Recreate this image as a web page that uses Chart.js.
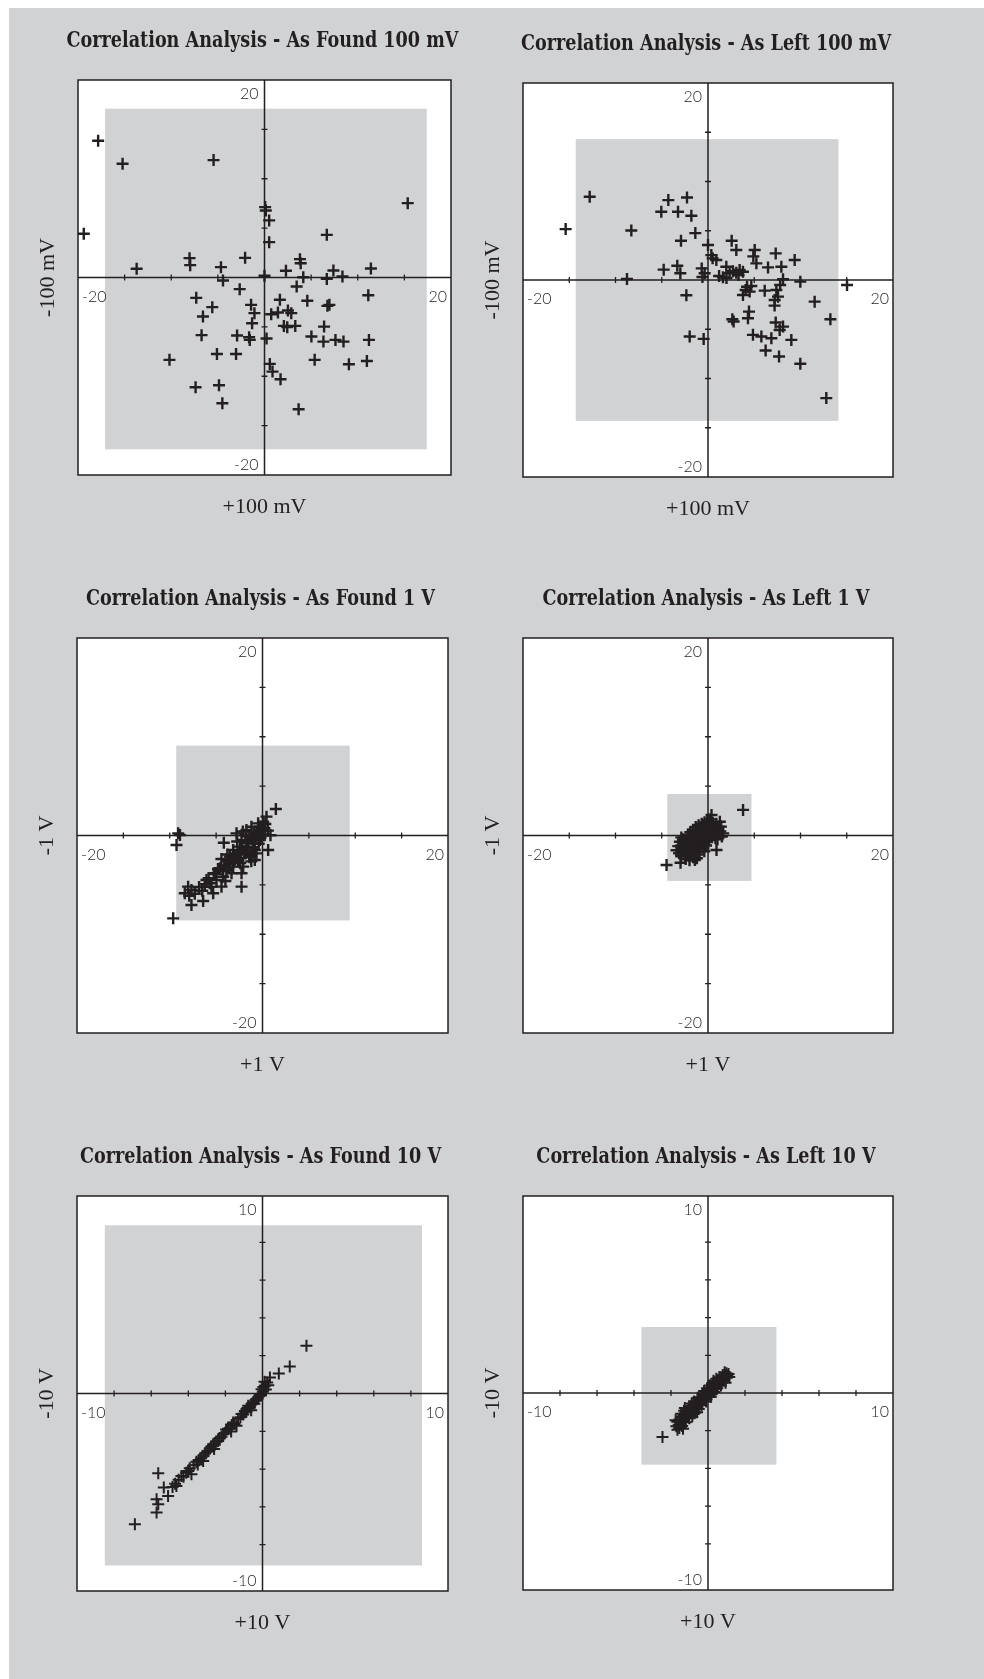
<!DOCTYPE html>
<html>
<head>
<meta charset="utf-8">
<script src="https://cdn.jsdelivr.net/npm/chart.js@4/dist/chart.umd.min.js"></script>
<style>
  html, body { margin: 0; padding: 0; background: #fff; }
  #page { position: relative; width: 984px; height: 1679px; background: #fff; overflow: hidden; }
  #sheet { position: absolute; left: 9px; top: 8px; right: 0; bottom: 0; background: #d1d2d4; }
  canvas { position: absolute; }
</style>
</head>
<body>
<div id="page"><div id="sheet"></div></div>
<script>
// ---- Chart text ----
const panelTitles = [
  'Correlation Analysis - As Found 100 mV',
  'Correlation Analysis - As Left 100 mV',
  'Correlation Analysis - As Found 1 V',
  'Correlation Analysis - As Left 1 V',
  'Correlation Analysis - As Found 10 V',
  'Correlation Analysis - As Left 10 V'
];
const xAxisTitles = ['+100 mV', '+100 mV', '+1 V', '+1 V', '+10 V', '+10 V'];
const yAxisTitles = ['-100 mV', '-100 mV', '-1 V', '-1 V', '-10 V', '-10 V'];

// ---- Axis ranges [xMin, xMax, yMin, yMax], ticks and end labels ----
const range20 = [-20, 20, -20, 20];
const range10 = [-10, 10, -10.45, 10.45];
const ticks20 = [-15, -10, -5, 5, 10, 15];
const ticks10 = [-8, -6, -4, -2, 2, 4, 6, 8];
const endLabels20 = ['-20', '20'];
const endLabels10 = ['-10', '10'];

// ---- Tolerance bands [xMin, xMax, yMin, yMax] ----
const bandFound100mV = [-17.1, 17.4, -17.4, 17.1];
const bandLeft100mV  = [-14.3, 14.1, -14.3, 14.3];
const bandFound1V    = [-9.3, 9.4, -8.6, 9.1];
const bandLeft1V     = [-4.4, 4.7, -4.6, 4.2];
const bandFound10V   = [-8.5, 8.6, -9.1, 8.9];
const bandLeft10V    = [-3.6, 3.7, -3.8, 3.5];

// ---- Measurement pairs [x, y] ----
const found100mV = [
  [-17.84,13.85],[-15.22,11.52],[-5.46,11.89],[-19.38,4.43],[15.36,7.53],[0.07,7.13],[0.14,6.79],
  [0.5,5.78],[0.5,3.58],[6.68,4.32],[-13.71,0.88],[-8.04,1.96],[-7.97,1.25],[-4.67,1.05],[-2.08,1.99],
  [0,0.17],[2.3,0.68],[3.8,1.86],[3.88,1.45],[4.16,0.03],[6.68,-0.14],[7.39,0.71],[8.36,0.1],[11.41,0.91],
  [-4.45,-0.3],[-2.66,-1.18],[-7.32,-2.06],[3.45,-0.91],[4.59,-2.36],[1.65,-2.26],[11.13,-1.79],
  [-5.6,-3.0],[-6.6,-3.95],[-1.44,-2.77],[-1.08,-3.61],[0.72,-3.72],[1.44,-3.55],[2.51,-3.34],[2.87,-3.61],
  [6.75,-2.87],[6.96,-2.77],[-1.33,-4.63],[2.08,-4.9],[2.44,-5.03],[3.3,-4.9],[6.39,-4.97],[-6.75,-5.84],
  [-2.94,-5.88],[-1.65,-6.05],[-1.58,-6.32],[0.22,-6.18],[5.03,-5.98],[6.32,-6.49],[7.61,-6.32],[8.47,-6.49],
  [11.2,-6.32],[-5.1,-7.74],[-3.05,-7.74],[-10.19,-8.34],[5.38,-8.34],[9.05,-8.78],[10.98,-8.45],
  [0.57,-8.75],[0.86,-9.53],[1.72,-10.3],[-7.39,-11.11],[-4.88,-10.91],[-4.52,-12.74],[3.66,-13.34]
];
const left100mV = [
  [-15.39,5.17],[-12.79,8.45],[-8.29,5.03],[-8.76,0.1],[-4.29,8.11],[-2.27,8.38],[-5.05,6.93],[-3.24,6.93],
  [-1.8,6.52],[-1.37,4.76],[-2.92,3.99],[-4.79,1.05],[-3.32,1.45],[-2.99,0.68],[-2.34,-1.55],[-0.68,1.18],
  [-0.36,0.68],[0,3.55],[0.36,2.53],[0.9,2.03],[-1.98,-5.74],[-0.47,-5.98],[2.56,3.99],[3.06,3.04],
  [5.05,3.04],[5.23,1.69],[7.32,2.7],[9.37,2.03],[7.93,1.35],[6.49,1.28],[1.98,1.35],[2.34,0.68],
  [3.06,0.74],[3.78,0.84],[1.62,0.27],[8.11,0.07],[9.98,-0.17],[15.03,-0.51],[4.07,-1.01],[4.5,-1.18],
  [3.78,-1.52],[6.13,-1.08],[7.39,-1.01],[7.21,-2.03],[7.57,-1.69],[11.53,-2.2],[4.43,-3.21],[4.32,-3.89],
  [2.63,-3.99],[2.77,-4.22],[13.23,-3.99],[7.32,-4.32],[8.11,-4.73],[4.86,-5.57],[5.77,-5.74],[6.85,-5.91],
  [9.01,-6.08],[6.23,-7.16],[7.68,-7.77],[9.98,-8.51],[12.79,-11.99],[4.22,-0.68],[4.68,-0.61],[3.42,1.01],
  [7.75,-5.07],[2.7,0.9],[3.3,0.5],[1.2,0.4],[2.0,0.2],[-0.6,0.3],[0.5,2.2],[7.8,-0.5],[4.9,2.4],[7.2,-2.6]
];
const found1V = [
  [-9.63,-8.39],[-9.09,0.22],[-9.27,-0.96],[-8.9,0.05],[1.44,2.68],[0.61,-1.47],[0.86,0.02],[-7.66,-5.52],
  [-8.02,-5.18],[-8.38,-5.85],[-7.66,-7.04],[-6.4,-6.63],[-7.9,-6.1],[-6.04,-4.5],[-5.32,-5.85],[-4.42,-5.18],
  [-2.26,-5.18],[-2.26,-3.83],[-4.17,-0.73],[-3.88,-2.48],[-3.16,-3.15],[-5.25,-3.83],[-4.24,-4.17],[-2.8,0.22],
  [-2.26,-0.46],[-1.73,-1.13],[-1.19,-1.81],[-1.01,-0.46],[-0.65,0.22],[-0.29,0.89],[0.07,1.4],[0.43,1.91],
  [-0.83,-1.47],[-1.37,-0.12],[-1.91,-1.81],[-3.52,-2.14],[-3.16,-1.47],[-2.62,-2.48],[-2.08,-3.15],[-3.88,-3.49],
  [-4.96,-4.5],[-5.68,-4.84],[-0.29,-0.46],[-0.65,-1.81],[-1.73,0.56],[-1.19,0.89],[-0.47,1.23],[-2.44,-1.13],
  [-3.34,-3.83],[-4.6,-3.32],[-0.83,-2.48],[-1.44,-1.98],[-2.9,-2.03],[-2.01,-1.62],[-1.52,-0.78],[-0.93,0.31],
  [-0.18,0.42],[0.21,0.74],[-2.73,-0.61],[-3.48,-2.87],[-4.12,-3.04],[-5.03,-3.91],[-6.22,-4.93],[-6.84,-5.21],
  [-5.81,-4.33],[-3.02,-2.58],[-2.33,-2.29],[-1.21,-2.62],[-0.97,-1.19],[0.31,1.17],[0.58,0.49],[-0.41,-0.83],
  [-1.63,-1.47],[-2.51,-1.64],[-3.79,-1.92],[-4.43,-2.38],[-1.84,0.03],[-2.12,0.41],
  [-4.8,-3.4],[-4.3,-3.6],[-3.7,-2.6],[-3.3,-2.3],[-2.7,-1.9],[-2.2,-1.2],[-1.7,-0.6],[-1.2,-0.3],
  [-0.7,-0.1],[-0.4,0.5],[-3.6,-3.2],[-2.4,-2.8],[-1.4,-2.2],[-0.9,-0.8],[-0.2,-0.2],[0.2,0.1],
  [-5.5,-5.2],[-6.5,-5.6],[-7.3,-5.9],[-4.0,-4.6]
];
const left1V = [
  [3.79,2.59],[-4.48,-2.99],[-2.97,-2.76],[-1.42,-2.48],[0.92,-1.47],[-3.04,-0.63],[1.64,0.22],[1.28,1.4],
  [0.38,2.08],[-2.61,-1.32],[-2.28,-1.63],[-2.02,-2.04],[-1.79,-1.08],[-1.53,-1.51],[-1.18,-1.93],[-0.97,-1.22],
  [-0.81,-0.57],[-0.52,-0.93],[-0.21,-1.02],[0.12,-0.47],[0.43,-0.18],[0.69,0.13],[0.93,0.52],[1.12,0.88],
  [0.61,0.79],[0.28,1.11],[0.03,0.91],[-0.31,0.62],[-0.58,0.37],[-0.92,0.19],[-1.23,0.02],[-1.47,-0.31],
  [-1.81,-0.49],[-2.13,-0.72],[-2.39,-0.88],[-2.71,-0.41],[-2.18,0.08],[-1.92,0.33],[-1.61,0.58],[-1.33,0.87],
  [-1.02,1.04],[-0.68,1.19],[-0.37,1.33],[-0.08,1.52],[0.19,1.63],[0.52,1.28],[-0.63,-0.18],[-0.29,0.04],
  [0.01,0.23],[-1.08,-0.52],[-1.41,-0.81],[-1.72,-0.98],[-1.98,-1.31],[-2.52,-1.88],[-2.83,-1.17],[-3.12,-1.79],
  [-2.41,-2.37],[-1.62,-2.21],[-0.91,-1.63],[-0.48,-1.29],[-0.17,-0.31],[0.32,0.41],[0.81,-0.28],[1.33,0.42],
  [1.02,-0.39],[-1.27,0.41],[-0.79,0.71],[-0.11,0.68],[-2.88,-0.19],[-3.21,-1.08],
  [-2.2,-1.1],[-1.9,-1.7],[-1.6,-1.2],[-1.3,-1.6],[-1.1,-0.9],[-0.8,-1.1],[-0.6,-0.7],[-0.3,-0.6],
  [0.1,-0.2],[0.4,0.3],[0.7,0.6],[0.5,0.9],[0.2,0.5],[-0.2,0.3],[-0.5,0.1],[-0.9,-0.2],
  [-1.2,-0.4],[-1.5,-0.6],[-1.9,-0.8],[-2.3,-1.3],[-2.6,-1.6],[-2.9,-2.1],[-2.2,-2.0],[-1.4,-1.2],
  [-0.7,-0.4],[-0.1,-0.1],[0.3,0.9],[0.9,1.2],[0.6,0.2],[-1.0,0.5],[-1.7,-0.2],[-2.5,-0.6],
  [-0.4,-1.6],[-1.2,-2.3],[-2.0,-2.5],[0.0,1.2],[-0.5,0.9],[1.4,0.9],[1.5,-0.1],[-3.4,-1.5]
];
const found10V = [
  [2.37,2.52],[1.47,1.43],[0.88,1.06],[0.4,0.85],[-6.88,-6.92],[-5.62,-4.22],[-5.71,-5.6],[-5.71,-6.3],
  [-5.62,-5.86],[-5.32,-4.98],[-5.09,-5.42],[-4.85,-4.95],[-4.71,-4.78],[-4.64,-4.89],[-4.52,-4.56],[-4.37,-4.36],
  [-4.26,-4.41],[-4.11,-4.19],[-4.01,-4.1],[-3.92,-3.96],[-3.83,-4.27],[-3.71,-3.79],[-3.56,-3.61],[-3.43,-3.52],
  [-3.31,-3.43],[-3.2,-3.57],[-3.18,-3.3],[-3.09,-3.16],[-2.98,-3.07],[-2.93,-3.04],[-2.84,-2.91],[-2.76,-2.81],
  [-2.66,-2.68],[-2.57,-2.71],[-2.49,-2.54],[-2.39,-2.51],[-2.31,-2.36],[-2.21,-2.29],[-2.12,-2.15],[-2.04,-2.11],
  [-1.96,-1.91],[-1.86,-1.87],[-1.74,-1.81],[-1.66,-1.67],[-1.58,-1.54],[-1.51,-1.61],[-1.4,-1.71],[-1.31,-1.34],
  [-1.19,-1.26],[-1.13,-1.09],[-1.04,-1.11],[-0.95,-0.92],[-0.87,-0.96],[-0.81,-0.77],[-0.77,-0.65],[-0.68,-0.73],
  [-0.59,-0.56],[-0.51,-0.47],[-0.44,-0.54],[-0.38,-0.36],[-0.32,-0.3],[-0.26,-0.27],[-0.19,-0.14],[-0.14,-0.04],
  [-0.08,-0.11],[-0.05,0.23],[0.02,0.09],[0.05,0.35],[0.13,0.41],[0.18,0.21],[0.25,0.58],[0.31,0.44],
  [0.11,0.62],[-2.61,-2.94],[-3.49,-3.76],[-1.69,-2.01],[-0.61,-0.88]
];
const left10V = [
  [-2.46,-2.33],[-1.71,-1.77],[-1.66,-1.53],[-1.58,-1.69],[-1.54,-1.41],[-1.49,-1.62],[-1.43,-1.27],[-1.39,-1.52],
  [-1.33,-1.18],[-1.31,-1.43],[-1.24,-1.08],[-1.21,-1.31],[-1.16,-0.97],[-1.09,-1.22],[-1.06,-0.89],[-0.98,-1.08],
  [-0.94,-0.82],[-0.91,-1.03],[-0.84,-0.68],[-0.79,-0.91],[-0.76,-0.62],[-0.71,-0.79],[-0.64,-0.49],[-0.62,-0.71],
  [-0.56,-0.43],[-0.49,-0.61],[-0.46,-0.33],[-0.41,-0.52],[-0.34,-0.24],[-0.31,-0.44],[-0.26,-0.16],[-0.19,-0.36],
  [-0.16,-0.03],[-0.11,-0.24],[-0.04,0.06],[0.01,-0.14],[0.06,0.17],[0.09,0.02],[0.16,0.26],[0.21,0.09],
  [0.24,0.36],[0.31,0.21],[0.36,0.44],[0.39,0.31],[0.46,0.56],[0.52,0.41],[0.54,0.62],[0.61,0.49],
  [0.66,0.71],[0.69,0.57],[0.74,0.79],[0.81,0.66],[0.86,0.86],[0.89,0.71],[0.96,0.94],[1.01,0.81],
  [1.04,0.92],[1.11,1.01],[-1.29,-0.94],[-0.88,-0.56],[-0.57,-0.81],[-0.21,0.11],[0.19,-0.06],[-1.02,-1.34],
  [-0.59,-1.02],[0.29,0.54],[0.62,0.84],
  [-1.55,-1.85],[-1.4,-1.75],[-1.2,-1.55],[-1.45,-1.1],[-1.25,-0.8],[-1.0,-0.7],[-0.85,-1.25],[-0.7,-1.05],
  [-0.75,-0.45],[-0.5,-0.85],[-0.55,-0.25],[-0.35,-0.65],[-0.3,-0.05],[-0.1,-0.45],[-0.05,0.25],[0.15,-0.2],
  [0.1,0.4],[0.35,0.05],[0.3,0.65],[0.5,0.25],[0.45,0.75],[0.7,0.4],[0.8,0.95],[0.95,0.55],
  [1.0,1.05],[1.15,0.85],[0.9,1.1],[-1.65,-1.95],[-1.75,-1.45],[-1.35,-1.9]
];

// ---- Layout: plot frame [left, top, right, bottom] on the page ----
const frames = [
  [78, 80, 451, 475], [523, 83, 893, 477],
  [77, 638, 448, 1033], [523, 638, 893, 1033],
  [77, 1196, 448, 1591], [523, 1196, 893, 1590]
];

const panels = [
  { points: found100mV, band: bandFound100mV, range: range20, ticks: ticks20, ends: endLabels20 },
  { points: left100mV,  band: bandLeft100mV,  range: range20, ticks: ticks20, ends: endLabels20 },
  { points: found1V,    band: bandFound1V,    range: range20, ticks: ticks20, ends: endLabels20 },
  { points: left1V,     band: bandLeft1V,     range: range20, ticks: ticks20, ends: endLabels20 },
  { points: found10V,   band: bandFound10V,   range: range10, ticks: ticks10, ends: endLabels10 },
  { points: left10V,    band: bandLeft10V,    range: range10, ticks: ticks10, ends: endLabels10 }
];

const INK = '#231f20';
const SHADE = '#d1d2d4';
const PAD = { left: 80, top: 80, right: 20, bottom: 60 };

// Crosshair axes, tolerance band, frame and labels for one correlation plot
const correlationPlot = {
  id: 'correlationPlot',
  beforeDatasetsDraw(chart, args, o) {
    const { ctx, chartArea: a, scales: { x, y } } = chart;
    ctx.save();
    ctx.fillStyle = '#fff';
    ctx.fillRect(a.left, a.top, a.right - a.left, a.bottom - a.top);
    const bl = x.getPixelForValue(o.band[0]), br = x.getPixelForValue(o.band[1]);
    const bb = y.getPixelForValue(o.band[2]), bt = y.getPixelForValue(o.band[3]);
    ctx.fillStyle = SHADE;
    ctx.fillRect(bl, bt, br - bl, bb - bt);

    const ox = x.getPixelForValue(0), oy = y.getPixelForValue(0);
    ctx.strokeStyle = INK;
    ctx.lineWidth = 1.5;
    ctx.beginPath();
    ctx.moveTo(a.left, oy); ctx.lineTo(a.right, oy);
    ctx.moveTo(ox, a.top); ctx.lineTo(ox, a.bottom);
    ctx.stroke();
    ctx.lineWidth = 1.3;
    ctx.beginPath();
    o.ticks.forEach(t => {
      const px = x.getPixelForValue(t), py = y.getPixelForValue(t);
      ctx.moveTo(px, oy - 3); ctx.lineTo(px, oy + 3);
      ctx.moveTo(ox - 3, py); ctx.lineTo(ox + 3, py);
    });
    ctx.stroke();
    ctx.restore();
  },
  afterDraw(chart, args, o) {
    const { ctx, chartArea: a, scales: { x, y } } = chart;
    const ox = x.getPixelForValue(0), oy = y.getPixelForValue(0);
    const cx = (a.left + a.right) / 2, cy = (a.top + a.bottom) / 2;
    ctx.save();
    ctx.strokeStyle = INK;
    ctx.lineWidth = 1.5;
    ctx.strokeRect(a.left, a.top, a.right - a.left, a.bottom - a.top);

    // end-of-axis labels
    ctx.fillStyle = INK;
    ctx.font = '300 16px Lato, "Open Sans", sans-serif';
    ctx.textAlign = 'right';
    ctx.textBaseline = 'alphabetic';
    ctx.fillText(o.ends[1], ox - 6, y.getPixelForValue(y.max) + 19);
    ctx.fillText(o.ends[0], ox - 6, y.getPixelForValue(y.min) - 5);
    ctx.fillText(o.ends[1], x.getPixelForValue(x.max) - 4, oy + 24);
    ctx.textAlign = 'left';
    ctx.fillText(o.ends[0], x.getPixelForValue(x.min) + 4, oy + 24);

    // axis titles
    ctx.font = '22px "Liberation Serif", serif';
    ctx.textAlign = 'center';
    ctx.fillText(o.xTitle, cx, a.bottom + 38);
    ctx.save();
    ctx.translate(a.left - 24, cy);
    ctx.rotate(-Math.PI / 2);
    ctx.fillText(o.yTitle, 0, 0);
    ctx.restore();

    // plot title, set in a condensed bold slab face
    ctx.font = 'bold 22px "DejaVu Serif", serif';
    ctx.textAlign = 'center';
    ctx.save();
    ctx.translate(cx - 2, a.top - 33);
    ctx.scale(0.8, 1);
    ctx.fillText(o.title, 0, 0);
    ctx.restore();
    ctx.restore();
  }
};

const page = document.getElementById('page');
panels.forEach((p, i) => {
  const f = frames[i];
  const cv = document.createElement('canvas');
  const w = f[2] - f[0] + PAD.left + PAD.right;
  const h = f[3] - f[1] + PAD.top + PAD.bottom;
  cv.width = w; cv.height = h;
  cv.style.width = w + 'px'; cv.style.height = h + 'px';
  cv.style.left = (f[0] - PAD.left) + 'px';
  cv.style.top = (f[1] - PAD.top) + 'px';
  page.appendChild(cv);

  new Chart(cv, {
    type: 'scatter',
    data: {
      datasets: [{
        data: p.points.map(([px, py]) => ({ x: px, y: py })),
        pointStyle: 'cross',
        pointRadius: 6,
        pointBorderWidth: i >= 4 ? 2 : 2.4,
        borderColor: INK,
        backgroundColor: INK
      }]
    },
    options: {
      responsive: false,
      animation: false,
      events: [],
      layout: { padding: PAD },
      scales: {
        x: { type: 'linear', display: false, min: p.range[0], max: p.range[1] },
        y: { type: 'linear', display: false, min: p.range[2], max: p.range[3] }
      },
      plugins: {
        legend: { display: false },
        tooltip: { enabled: false },
        correlationPlot: {
          band: p.band, ticks: p.ticks, ends: p.ends,
          title: panelTitles[i], xTitle: xAxisTitles[i], yTitle: yAxisTitles[i]
        }
      }
    },
    plugins: [correlationPlot]
  });
});
</script>
</body>
</html>
